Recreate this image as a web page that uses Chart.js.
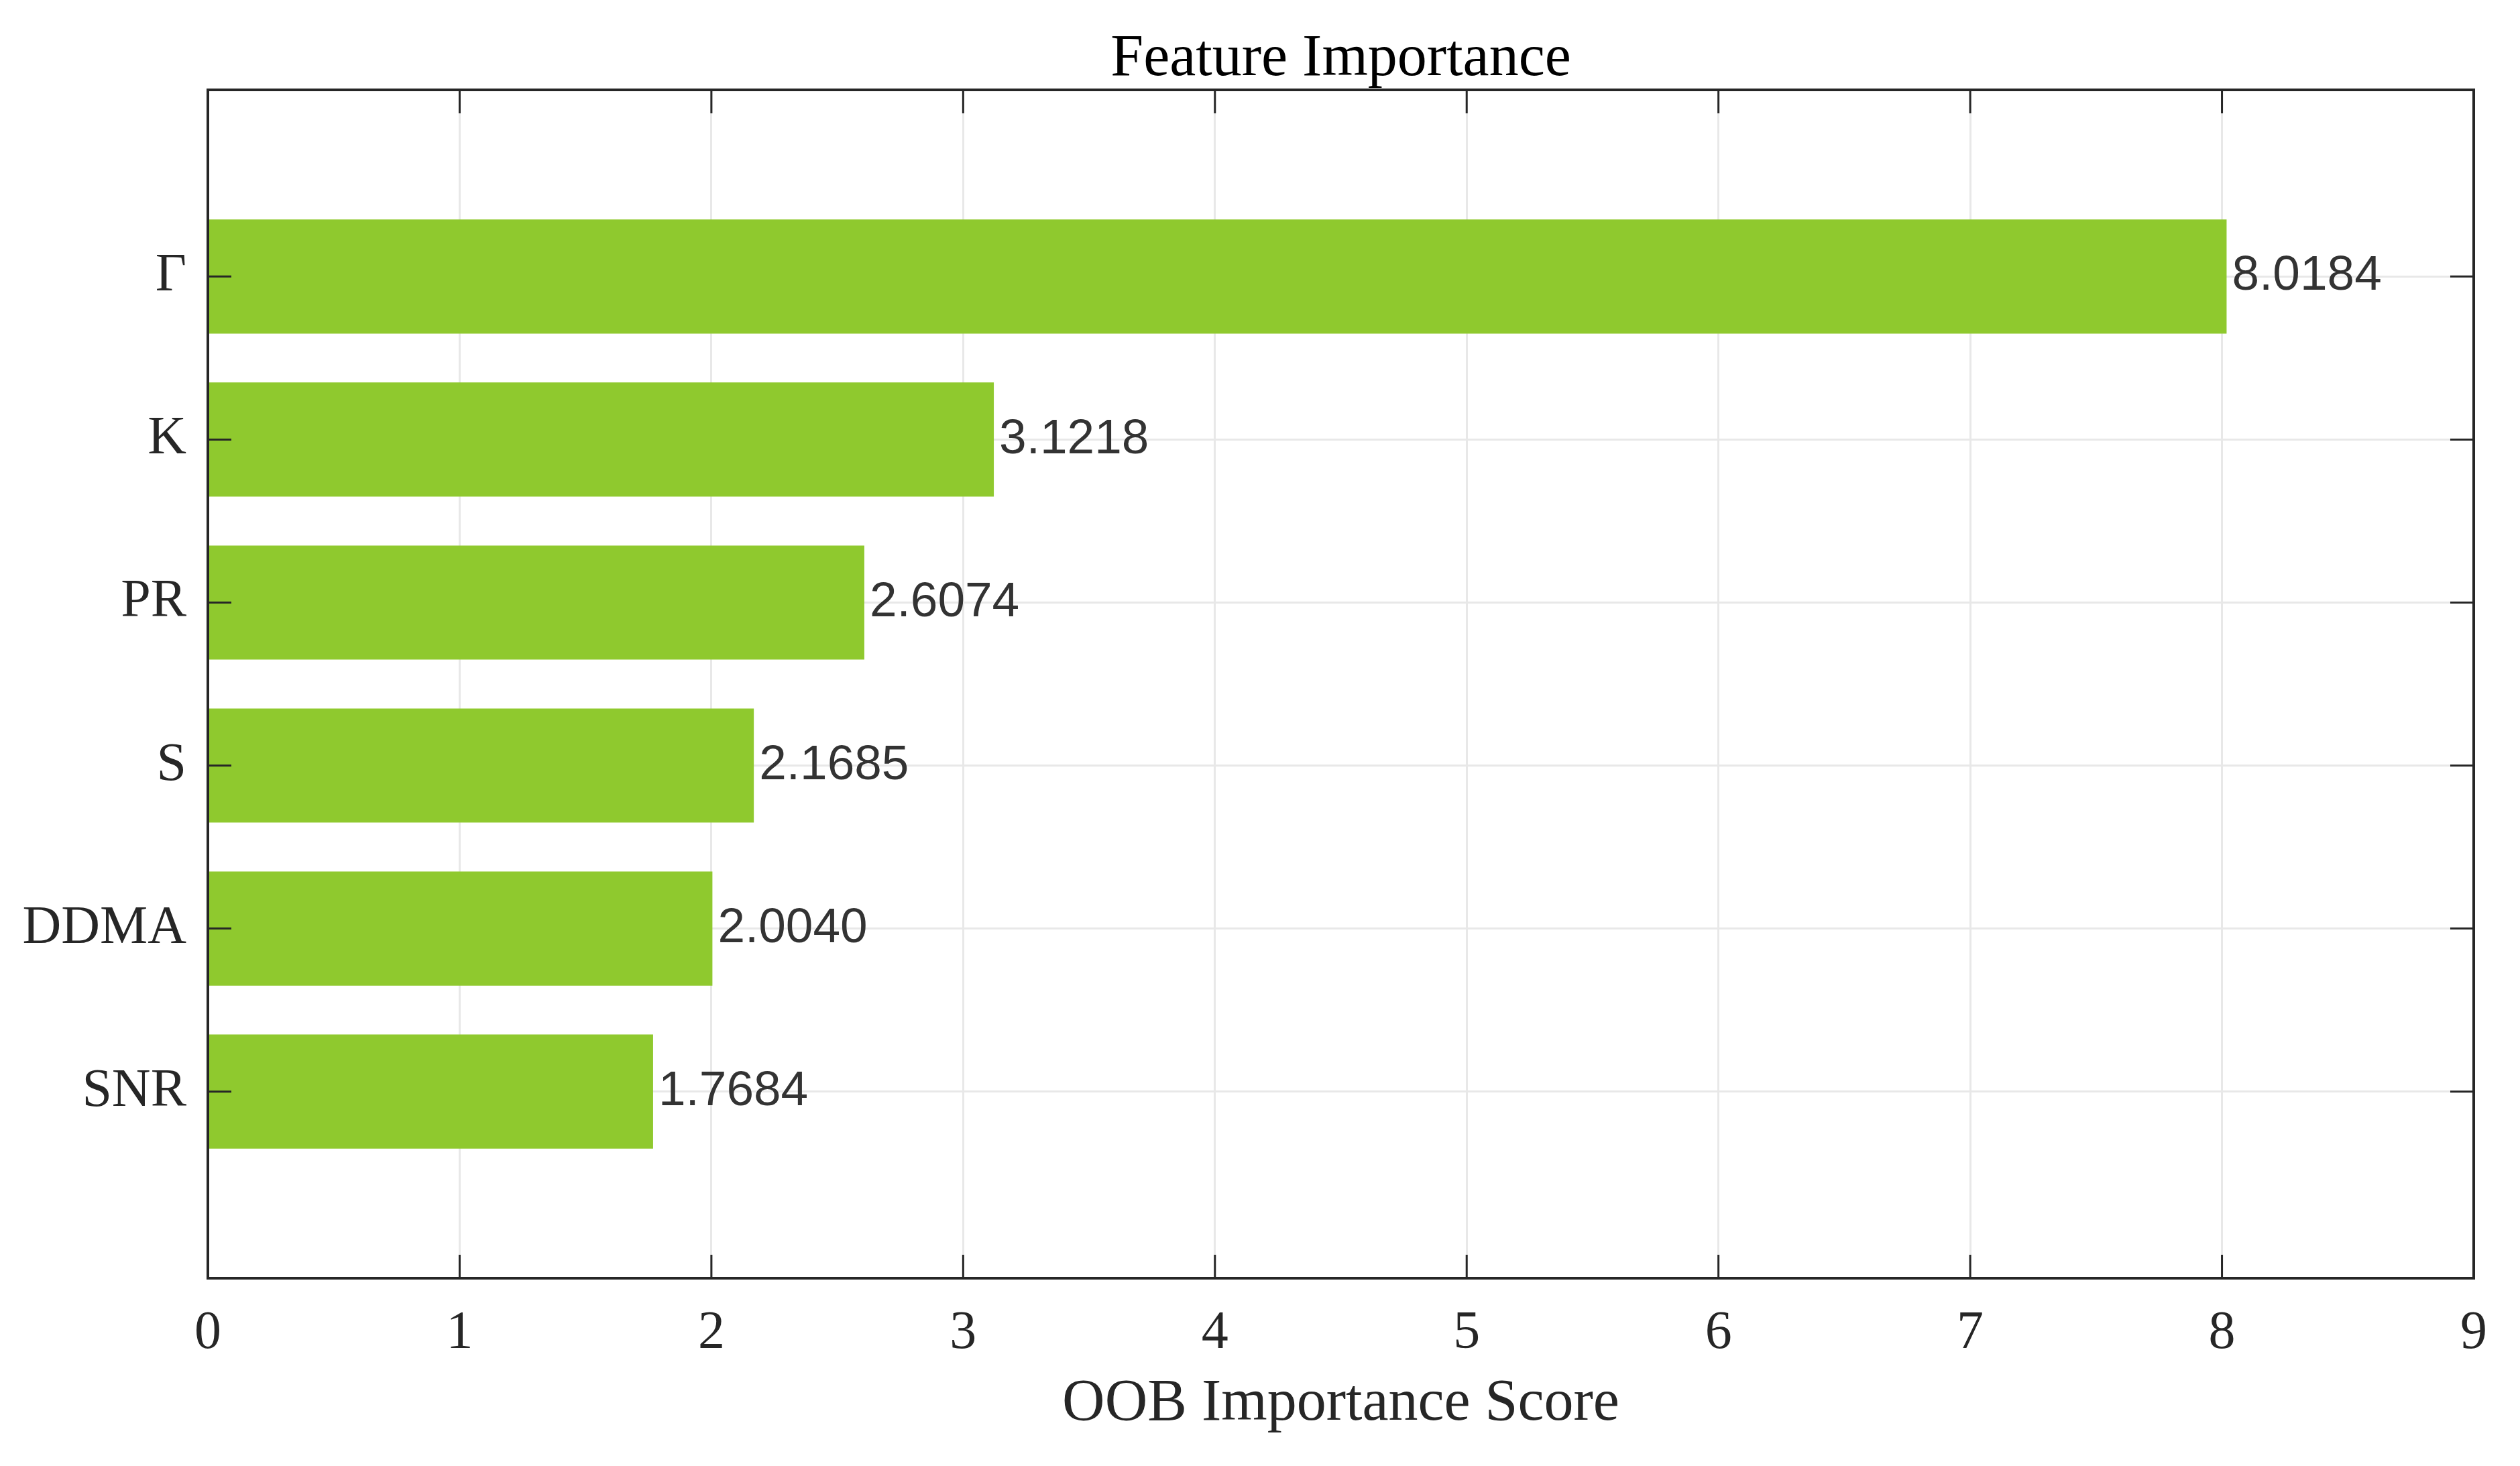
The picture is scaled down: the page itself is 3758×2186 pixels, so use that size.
<!DOCTYPE html>
<html>
<head>
<meta charset="utf-8">
<title>Feature Importance</title>
<script src="https://cdn.jsdelivr.net/npm/chart.js@4.4.1/dist/chart.umd.min.js"></script>
<style>
  html, body { margin: 0; padding: 0; background: #ffffff; }
  #myChart { display: block; }
</style>
</head>
<body>
<canvas id="myChart" width="3758" height="2186"></canvas>
<script>
// Datos del gráfico (de arriba hacia abajo)
const features = ["Γ", "K", "PR", "S", "DDMA", "SNR"];
const scores = [8.0184, 3.1218, 2.6074, 2.1685, 2.0040, 1.7684];
const xTicks = [0, 1, 2, 3, 4, 5, 6, 7, 8, 9];

const chartTitle = "Feature Importance";
const xTitle = "OOB Importance Score";

const barColor = "#8fc92e";
const axisColor = "#262626";
const gridColor = "#e8e8e8";
const serif = "'Liberation Serif', 'Times New Roman', serif";
const sans = "'Liberation Sans', Arial, sans-serif";

const chart = document.querySelector("#myChart");

// Caja del eje con marcas hacia adentro (estilo MATLAB)
const boxPlugin = {
  id: "boxPlugin",
  afterDraw: (c) => {
    const { ctx, chartArea } = c;
    const { left, right, top, bottom } = chartArea;
    const tickLen = 35;
    ctx.save();
    ctx.strokeStyle = axisColor;
    ctx.lineWidth = 3;
    ctx.beginPath();
    c.scales.x.ticks.forEach((t) => {
      const px = c.scales.x.getPixelForValue(t.value);
      ctx.moveTo(px, bottom);
      ctx.lineTo(px, bottom - tickLen);
      ctx.moveTo(px, top);
      ctx.lineTo(px, top + tickLen);
    });
    c.scales.y.ticks.forEach((t) => {
      const py = c.scales.y.getPixelForValue(t.value);
      ctx.moveTo(left, py);
      ctx.lineTo(left + tickLen, py);
      ctx.moveTo(right, py);
      ctx.lineTo(right - tickLen, py);
    });
    ctx.stroke();
    ctx.lineWidth = 4;
    ctx.strokeRect(left, top, right - left, bottom - top);
    ctx.restore();
  },
};

// Etiquetas con el valor al final de cada barra
const valueLabels = {
  id: "valueLabels",
  afterDatasetsDraw: (c) => {
    const { ctx } = c;
    const meta = c.getDatasetMeta(0);
    ctx.save();
    ctx.font = `73px ${sans}`;
    ctx.fillStyle = "#333333";
    ctx.textAlign = "left";
    ctx.textBaseline = "middle";
    meta.data.forEach((bar, i) => {
      ctx.fillText(scores[i].toFixed(4), bar.x + 8, bar.y);
    });
    ctx.restore();
  },
};

const config = {
  type: "bar",
  data: {
    datasets: [
      {
        label: "OOB",
        data: scores.map((v, i) => ({ x: v, y: i })),
        backgroundColor: barColor,
        borderWidth: 0,
        categoryPercentage: 1,
        barPercentage: 0.7,
      },
    ],
  },
  options: {
    indexAxis: "y",
    responsive: false,
    animation: false,
    devicePixelRatio: 1,
    layout: { padding: { left: 0, right: 69, top: 0, bottom: 0 } },
    plugins: {
      legend: { display: false },
      tooltip: { enabled: false },
      title: {
        display: true,
        text: chartTitle,
        fullSize: false,
        color: "#000000",
        font: { family: serif, size: 88, weight: "normal", lineHeight: 1 },
        padding: { top: 45, bottom: 1 },
      },
    },
    scales: {
      x: {
        type: "linear",
        position: "bottom",
        min: xTicks[0],
        max: xTicks[xTicks.length - 1],
        afterBuildTicks: (axis) => {
          axis.ticks = xTicks.map((v) => ({ value: v }));
        },
        afterFit: (scale) => {
          scale.height = 280;
        },
        grid: { color: gridColor, lineWidth: 3, drawTicks: false },
        border: { display: false },
        ticks: {
          color: axisColor,
          font: { family: serif, size: 80 },
          padding: 35,
          maxRotation: 0,
          autoSkip: false,
        },
        title: {
          display: true,
          text: xTitle,
          color: axisColor,
          font: { family: serif, size: 88 },
          padding: { top: 0, bottom: 39 },
        },
      },
      y: {
        type: "linear",
        position: "left",
        reverse: true,
        offset: false,
        min: -1.145,
        max: features.length - 1 + 1.145,
        afterBuildTicks: (axis) => {
          axis.ticks = features.map((_, i) => ({ value: i }));
        },
        afterFit: (scale) => {
          scale.width = 310;
        },
        grid: { color: gridColor, lineWidth: 3, drawTicks: false, offset: false },
        border: { display: false },
        ticks: {
          color: axisColor,
          font: { family: serif, size: 80 },
          padding: 32,
          autoSkip: false,
          callback: (value) => features[value] ?? "",
        },
      },
    },
  },
  plugins: [boxPlugin, valueLabels],
};

const myChart = new Chart(chart, config);
</script>
</body>
</html>
